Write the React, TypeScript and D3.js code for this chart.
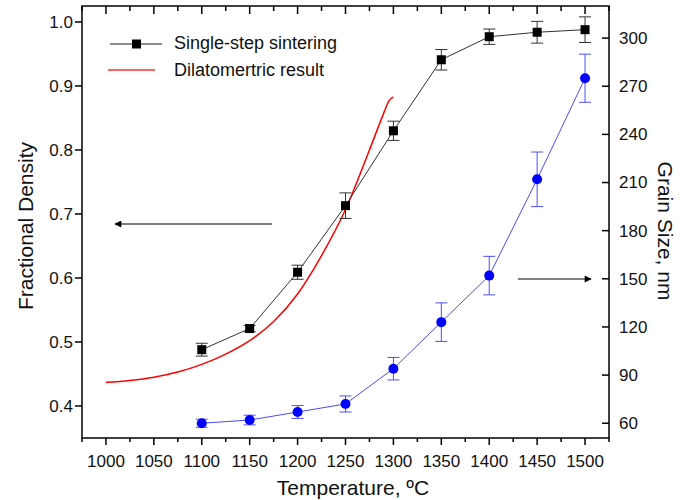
import React from "react";
import * as d3 from "d3";

const temps = [1100, 1150, 1200, 1250, 1300, 1350, 1400, 1450, 1500];
const density = [0.488, 0.521, 0.609, 0.713, 0.830, 0.941, 0.977, 0.984, 0.988];
const densityErr = [0.01, 0.005, 0.011, 0.02, 0.015, 0.016, 0.012, 0.017, 0.02];
const grain = [60, 62, 67, 72, 94, 123, 152, 212, 275];
const grainErr = [2.5, 3, 4, 5, 7, 12, 12, 17, 15];

const dilatoT = [1000, 1025, 1050, 1075, 1100, 1125, 1150, 1175, 1200, 1225, 1250, 1275, 1290, 1295, 1300];
const dilatoD = [0.437, 0.440, 0.445, 0.453, 0.465, 0.481, 0.502, 0.532, 0.575, 0.635, 0.707, 0.800, 0.858, 0.876, 0.883];

const xTicks = [1000, 1050, 1100, 1150, 1200, 1250, 1300, 1350, 1400, 1450, 1500];
const xMinor = [975, 1025, 1075, 1125, 1175, 1225, 1275, 1325, 1375, 1425, 1475, 1525];
const yLeftTicks = [0.4, 0.5, 0.6, 0.7, 0.8, 0.9, 1.0];
const yRightTicks = [60, 90, 120, 150, 180, 210, 240, 270, 300];

const legendLabels = ["Single-step sintering", "Dilatomertric result"];
const xTitle = "Temperature, ºC";
const yLeftTitle = "Fractional Density";
const yRightTitle = "Grain Size, nm";

const L = 82, R = 609, T = 6, B = 438;
const FONT = "Liberation Sans, Arial, sans-serif";

export default function App() {
  const x = d3.scaleLinear().domain([975, 1525]).range([L, R]);
  const yL = d3.scaleLinear().domain([0.35, 1.025]).range([B, T]);
  const yR = d3.scaleLinear().domain([50.8, 320]).range([B, T]);

  const densLine = d3.line<number>().x((_, i) => x(temps[i])).y((d) => yL(d))(density) || "";
  const grainLine = d3.line<number>().x((_, i) => x(temps[i])).y((d) => yR(d))(grain) || "";
  const dilLine = d3.line<number>().x((_, i) => x(dilatoT[i])).y((d) => yL(d)).curve(d3.curveMonotoneX)(dilatoD) || "";

  const cap = 6;

  return (
    <div>
      <style>{`body{margin:0}`}</style>
      <svg width={690} height={500} style={{ display: "block", fontFamily: FONT }}>
        <defs>
          <marker id="ah" viewBox="0 0 10 10" refX="9" refY="5" markerWidth="10" markerHeight="7" markerUnits="userSpaceOnUse" orient="auto">
            <path d="M0,0 L10,5 L0,10 Z" fill="#000" />
          </marker>
        </defs>
        <rect width={690} height={500} fill="#fff" />

        {/* arrows */}
        <line x1={272} y1={224} x2={115} y2={224} stroke="#555" strokeWidth={1.5} markerEnd="url(#ah)" />
        <line x1={518} y1={279} x2={591} y2={279} stroke="#555" strokeWidth={1.5} markerEnd="url(#ah)" />

        {/* dilatometric */}
        <path d={dilLine} fill="none" stroke="#ff0000" strokeWidth={1.5} />

        {/* density */}
        <path d={densLine} fill="none" stroke="#333" strokeWidth={1} />
        {temps.map((t, i) => {
          const cx = x(t);
          const y1 = yL(density[i] + densityErr[i]);
          const y2 = yL(density[i] - densityErr[i]);
          return (
            <g key={"d" + t} stroke="#333" strokeWidth={1}>
              <line x1={cx} x2={cx} y1={y1} y2={y2} />
              <line x1={cx - cap} x2={cx + cap} y1={y1} y2={y1} />
              <line x1={cx - cap} x2={cx + cap} y1={y2} y2={y2} />
              <rect x={cx - 4.5} y={yL(density[i]) - 4.5} width={9} height={9} fill="#000" stroke="none" />
            </g>
          );
        })}

        {/* grain */}
        <path d={grainLine} fill="none" stroke="#4a4aff" strokeWidth={1} />
        {temps.map((t, i) => {
          const cx = x(t);
          const y1 = yR(grain[i] + grainErr[i]);
          const y2 = yR(grain[i] - grainErr[i]);
          return (
            <g key={"g" + t} stroke="#4d4dff" strokeWidth={1}>
              <line x1={cx} x2={cx} y1={y1} y2={y2} />
              <line x1={cx - cap} x2={cx + cap} y1={y1} y2={y1} />
              <line x1={cx - cap} x2={cx + cap} y1={y2} y2={y2} />
              <circle cx={cx} cy={yR(grain[i])} r={5} fill="#0000ff" stroke="none" />
            </g>
          );
        })}

        {/* frame */}
        <rect x={L} y={T} width={R - L} height={B - T} fill="none" stroke="#000" strokeWidth={1.5} />

        {/* bottom axis */}
        {xTicks.map((t) => (
          <g key={"xb" + t}>
            <line x1={x(t)} x2={x(t)} y1={B} y2={B + 7} stroke="#000" strokeWidth={1.5} />
            <line x1={x(t)} x2={x(t)} y1={T} y2={T + 8} stroke="#000" strokeWidth={1.5} />
            <text x={x(t)} y={467} fontSize={17} textAnchor="middle" fill="#111">{t}</text>
          </g>
        ))}
        {xMinor.map((t) => (
          <g key={"xm" + t}>
            <line x1={x(t)} x2={x(t)} y1={B} y2={B + 4} stroke="#000" strokeWidth={1.5} />
            <line x1={x(t)} x2={x(t)} y1={T} y2={T + 5} stroke="#000" strokeWidth={1.5} />
          </g>
        ))}

        {/* left axis */}
        {yLeftTicks.map((t) => (
          <g key={"yl" + t}>
            <line x1={L - 7} x2={L} y1={yL(t)} y2={yL(t)} stroke="#000" strokeWidth={1.5} />
            <text x={73} y={yL(t)} dy="0.35em" fontSize={17} textAnchor="end" fill="#111">{t.toFixed(1)}</text>
          </g>
        ))}

        {/* right axis */}
        {yRightTicks.map((t) => (
          <g key={"yr" + t}>
            <line x1={R - 7} x2={R} y1={yR(t)} y2={yR(t)} stroke="#000" strokeWidth={1.5} />
            <text x={619} y={yR(t)} dy="0.35em" fontSize={17} textAnchor="start" fill="#111">{t}</text>
          </g>
        ))}

        {/* titles */}
        <text x={353} y={495} fontSize={21} textAnchor="middle" fill="#111">{xTitle}</text>
        <text transform={`translate(33,226) rotate(-90)`} fontSize={21} textAnchor="middle" fill="#111">{yLeftTitle}</text>
        <text transform={`translate(658,231) rotate(90)`} fontSize={21} textAnchor="middle" fill="#111">{yRightTitle}</text>

        {/* legend */}
        <line x1={110} x2={162} y1={44} y2={44} stroke="#666" strokeWidth={1.5} />
        <rect x={132} y={39.5} width={9} height={9} fill="#000" />
        <text x={174} y={47} fontSize={18} fill="#111" dy="0.1em">{legendLabels[0]}</text>
        <line x1={108} x2={155} y1={70} y2={70} stroke="#ff3030" strokeWidth={1.5} />
        <text x={174} y={74} fontSize={18} fill="#111" dy="0.1em">{legendLabels[1]}</text>
      </svg>
    </div>
  );
}
